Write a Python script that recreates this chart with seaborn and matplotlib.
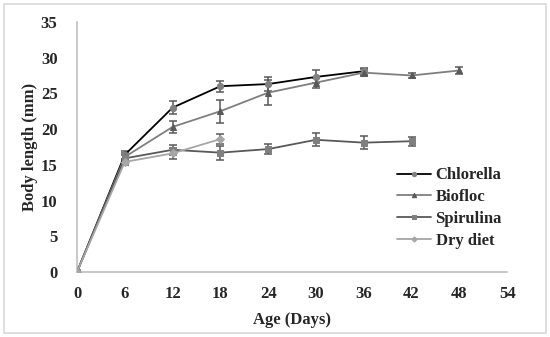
import pandas as pd
import matplotlib.pyplot as plt
import seaborn as sns
from matplotlib.patches import Rectangle

# Dados
dias = [0, 6, 12, 18, 24, 30, 36, 42, 48]

chlorella = [0, 16.4, 23.0, 26.0, 26.3, 27.3, 28.1]
chlorella_err = [0, 0.6, 0.9, 0.75, 1.0, 0.9, 0.5]

biofloc = [0, 16.1, 20.3, 22.5, 25.1, 26.5, 27.9, 27.5, 28.2]
biofloc_err = [0, 0.5, 0.8, 1.6, 1.7, 0.7, 0.5, 0.3, 0.45]

spirulina = [0, 15.9, 17.1, 16.7, 17.2, 18.5, 18.1, 18.3]
spirulina_err = [0, 0.5, 0.7, 1.0, 0.7, 0.9, 0.95, 0.65]

dry_diet = [0, 15.4, 16.6, 18.6]
dry_diet_err = [0, 0.4, 0.8, 0.7]

series = [
    ('Chlorella', chlorella, chlorella_err, 'black', '#808080', 'o'),
    ('Biofloc', biofloc, biofloc_err, '#7f7f7f', '#595959', '^'),
    ('Spirulina', spirulina, spirulina_err, '#595959', '#7f7f7f', 's'),
    ('Dry diet', dry_diet, dry_diet_err, '#a6a6a6', '#a6a6a6', 'D'),
]

sns.set_style('white')
plt.rcParams['font.family'] = ['Liberation Serif', 'DejaVu Serif']
plt.rcParams['font.weight'] = 'bold'

fig = plt.figure(figsize=(5.5, 3.37), dpi=100)
ax = fig.add_axes([0.14, 0.193, 0.782, 0.742])

for nome, valores, erros, cor_linha, cor_marca, marca in series:
    df = pd.DataFrame({'dia': dias[:len(valores)], 'comp': valores})
    ax.errorbar(df['dia'], df['comp'], yerr=erros, fmt='none', ecolor='#595959',
                elinewidth=1.1, capsize=3, capthick=1.1, zorder=2)
    sns.lineplot(data=df, x='dia', y='comp', ax=ax, color=cor_linha, linewidth=1.3,
                 marker=marca, markersize=4.5 if marca != 'D' else 3.8,
                 markerfacecolor=cor_marca, markeredgecolor=cor_marca,
                 label=nome, zorder=3)

ax.set_xlim(0, 54)
ax.set_ylim(0, 35)
ax.set_xticks(range(0, 55, 6))
ax.set_yticks(range(0, 36, 5))
ax.tick_params(axis='x', length=0, labelsize=12, pad=10)
ax.tick_params(axis='y', length=0, labelsize=12, pad=14)
for lab in ax.get_xticklabels() + ax.get_yticklabels():
    lab.set_fontweight('bold')

ax.set_xlabel('Age (Days)', fontsize=12, fontweight='bold', labelpad=7)
ax.set_ylabel('Body length (mm)', fontsize=12, fontweight='bold', labelpad=2)

for lado in ['top', 'right']:
    ax.spines[lado].set_visible(False)
for lado in ['left', 'bottom']:
    ax.spines[lado].set_color('#bfbfbf')
    ax.spines[lado].set_linewidth(1.2)

leg = ax.legend(loc='upper left', bbox_to_anchor=(0.729, 0.445), frameon=False,
                fontsize=12, handlelength=2.0, labelspacing=0.35, handletextpad=0.3,
                markerscale=0.7, borderaxespad=0)
for t in leg.get_texts():
    t.set_fontweight('bold')

# Borda clara em volta da figura
fig.patches.append(Rectangle((0.008, 0.012), 0.984, 0.976, transform=fig.transFigure,
                             fill=False, edgecolor='#d9d9d9', linewidth=1.2))

fig.savefig('out.png', dpi=100)
